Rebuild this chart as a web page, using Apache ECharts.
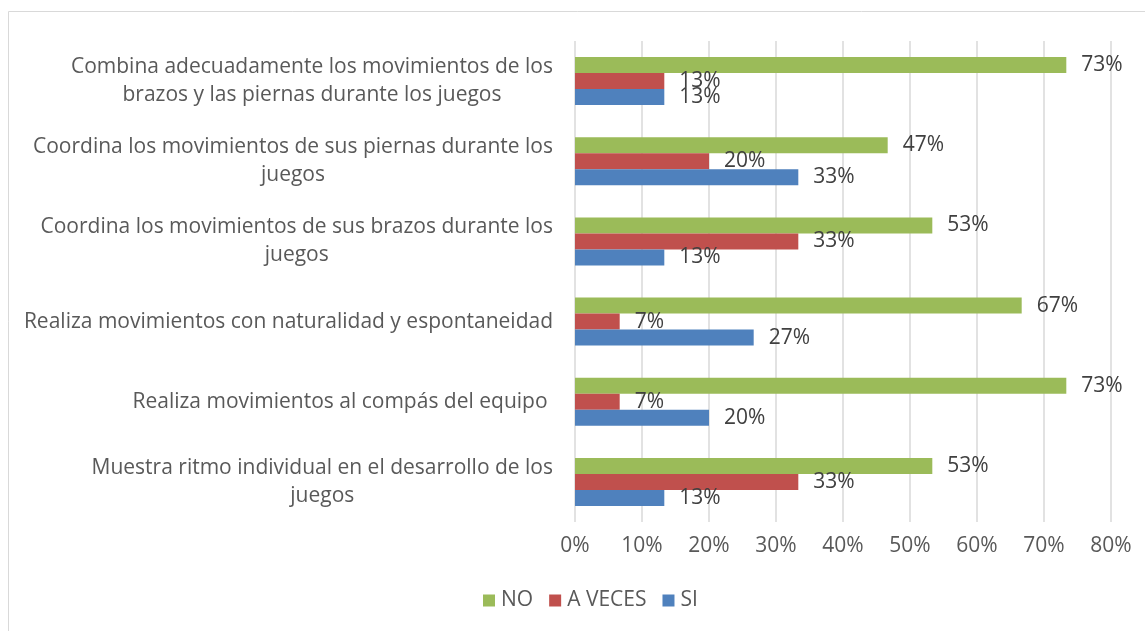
<!DOCTYPE html>
<html>
<head>
<meta charset="utf-8">
<script src="https://cdn.jsdelivr.net/npm/echarts@6/dist/echarts.min.js"></script>
<style>
  html, body { margin: 0; padding: 0; background: #fff; }
  #chart { width: 1145px; height: 631px; }
</style>
</head>
<body>
<div id="chart"></div>
<script>
// categories, top to bottom
const categories = [
  'Combina adecuadamente los movimientos de los\nbrazos y las piernas durante los juegos',
  'Coordina los movimientos de sus piernas durante los\njuegos',
  'Coordina los movimientos de sus brazos durante los\njuegos',
  'Realiza movimientos con naturalidad y espontaneidad',
  'Realiza movimientos al compás del equipo ',
  'Muestra ritmo individual en el desarrollo de los\njuegos'
]
const noValues = [73.33, 46.67, 53.33, 66.67, 73.33, 53.33]
const aVecesValues = [13.33, 20.0, 33.33, 6.67, 6.67, 33.33]
const siValues = [13.33, 33.33, 13.33, 26.67, 20.0, 13.33]
const xTicks = [0, 10, 20, 30, 40, 50, 60, 70, 80]

const FONT = 'Open Sans'
const FS = 21
const chart = echarts.init(document.getElementById('chart'))

const labelStyle = {
  show: true,
  position: 'right',
  distance: 15,
  color: '#404040',
  fontSize: FS,
  fontFamily: FONT,
  formatter: p => Math.round(p.value) + '%'
}

function makeSeries(name, data, color) {
  return {
    name,
    type: 'bar',
    data,
    barWidth: 16,
    barGap: '0%',
    itemStyle: { color },
    label: labelStyle
  }
}

chart.setOption({
  animation: false,
  graphic: [{
    type: 'rect',
    shape: { x: 8.5, y: 11.5, width: 1150, height: 640 },
    style: { fill: 'none', stroke: '#d9d9d9', lineWidth: 1 }
  }],
  legend: {
    data: ['NO', 'A VECES', 'SI'],
    bottom: 15,
    left: 478,
    itemWidth: 12,
    itemHeight: 12,
    itemGap: 16,
    icon: 'rect',
    textStyle: { color: '#595959', fontSize: FS, fontFamily: FONT, padding: [0, 0, 0, 1] }
  },
  grid: { left: 575, right: 34, top: 41, bottom: 109 },
  xAxis: {
    type: 'value',
    min: xTicks[0],
    max: xTicks[xTicks.length - 1],
    interval: 10,
    axisLine: { show: false },
    axisTick: { show: false },
    splitLine: { lineStyle: { color: '#d9d9d9', width: 1.5 } },
    axisLabel: {
      color: '#595959',
      fontSize: FS,
      fontFamily: FONT,
      margin: 14,
      formatter: v => v + '%'
    }
  },
  yAxis: {
    type: 'category',
    data: categories,
    inverse: true,
    axisLine: { show: false },
    axisTick: { show: false },
    axisLabel: {
      color: '#595959',
      fontSize: FS,
      fontFamily: FONT,
      margin: 22,
      align: 'right',
      formatter: v => v.split('\n').map(l => '{c|' + l + '}').join('\n'),
      rich: {
        c: { align: 'center', fontSize: FS, fontFamily: FONT, color: '#595959', lineHeight: 28 }
      }
    }
  },
  series: [
    makeSeries('NO', noValues, '#9bbb59'),
    makeSeries('A VECES', aVecesValues, '#c0504d'),
    makeSeries('SI', siValues, '#4f81bd')
  ]
})
</script>
</body>
</html>
